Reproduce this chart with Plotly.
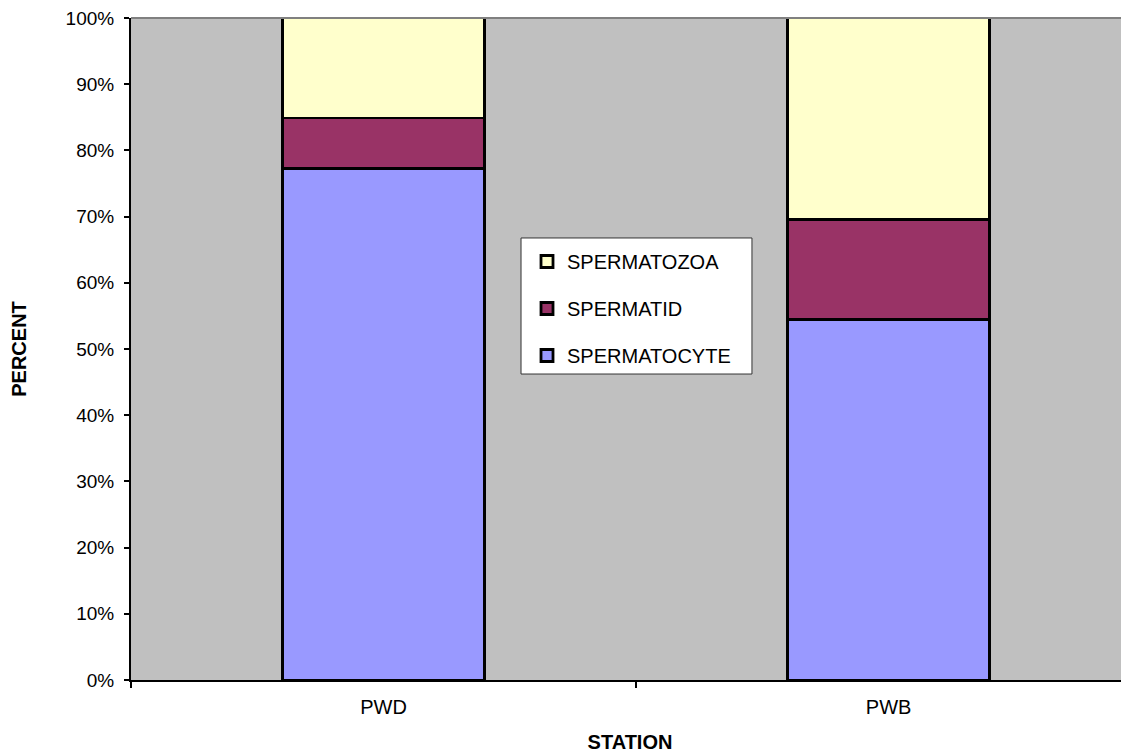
import plotly.graph_objects as go

stations = ["PWD", "PWB"]
spermatocyte = [77.3, 54.4]
spermatid = [7.6, 15.2]
spermatozoa = [15.1, 30.4]

series = [
    ("SPERMATOCYTE", spermatocyte, "#9999FF", 3),
    ("SPERMATID", spermatid, "#993366", 2),
    ("SPERMATOZOA", spermatozoa, "#FFFFCC", 1),
]

fig = go.Figure()
for i, (name, vals, col, rank) in enumerate(series):
    fig.add_trace(go.Bar(
        x=stations, y=vals, name=name, legendgroup=f"g{i}", legendrank=rank,
        marker=dict(color=col, line=dict(color="black", width=2.8)),
        width=0.4,
    ))

font = "Liberation Sans, Arial, sans-serif"
# plot area in reference pixels: x 131..1129, y 18..680 (page has 8px body margin)
fig.update_layout(
    width=1121, height=745,
    barmode="stack",
    paper_bgcolor="white",
    plot_bgcolor="#C0C0C0",
    margin=dict(l=123, r=0, t=10, b=73),
    font=dict(family=font, size=20, color="black"),
    showlegend=True,
    legend=dict(
        x=0.3968, y=0.6616, xanchor="left", yanchor="top",
        bgcolor="rgba(0,0,0,0)", borderwidth=0,
        traceorder="grouped", tracegroupgap=18,
        font=dict(size=20),
    ),
)
fig.update_xaxes(
    range=[-0.5, 1.476],
    showline=True, linecolor="black", linewidth=2,
    ticks="outside", ticklen=6, tickcolor="black", tickwidth=1.5,
    tickson="boundaries", ticklabelstandoff=8,
    tickfont=dict(size=20),
    title=dict(text="<b>STATION</b>", font=dict(size=20), standoff=22),
    showgrid=False,
)
fig.update_yaxes(
    range=[0, 100],
    tickvals=[0, 10, 20, 30, 40, 50, 60, 70, 80, 90, 100],
    ticktext=[f"{v}%" for v in range(0, 101, 10)],
    showline=True, linecolor="black", linewidth=2,
    ticks="outside", ticklen=5, tickcolor="black", tickwidth=1.5,
    ticklabelstandoff=6, tickfont=dict(size=19),
    ticklabeloverflow="allow",
    showgrid=False, zeroline=False,
    title=dict(text="<b>PERCENT</b>", font=dict(size=20), standoff=42),
)
fig.add_shape(type="line", xref="paper", yref="paper", x0=0, x1=1, y0=1, y1=1,
              line=dict(color="#808080", width=2))
# legend frame
fig.add_shape(type="rect", xref="paper", yref="paper",
              x0=0.3908, x1=0.6222, y0=0.4622, y1=0.6677,
              fillcolor="white", line=dict(color="#333333", width=1), layer="above")
fig.write_html("out.html")
